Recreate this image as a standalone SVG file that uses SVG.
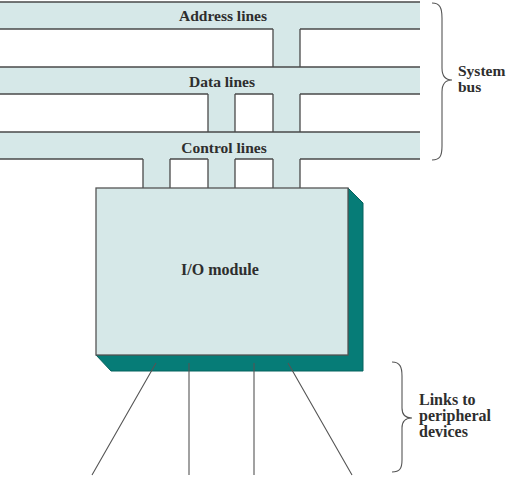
<svg xmlns="http://www.w3.org/2000/svg" width="506" height="479" viewBox="0 0 506 479">
<style>
.fill{fill:#d6e8e8;stroke:none}
.ln{stroke:#4a4a4a;stroke-width:1.3;fill:none}
.thin{stroke:#555;stroke-width:1.1;fill:none}
.lbl{font-family:"Liberation Serif","Times New Roman",serif;font-weight:bold;font-size:15.5px;fill:#2e2e2e}
.big{font-size:16px}
.lblc{text-anchor:middle}
</style>
<rect width="506" height="479" fill="#ffffff"/>
<g id="bus-stubs">
  <rect class="fill" x="273" y="29" width="27" height="159"/>
  <rect class="fill" x="208" y="94" width="27" height="94"/>
  <rect class="fill" x="143" y="159" width="27" height="29"/>
  <path class="ln" d="M273,29V67M300,29V67M273,94V132M300,94V132M273,159V188M300,159V188M208,94V132M235,94V132M208,159V188M235,159V188M143,159V188M170,159V188"/>
</g>
<g id="address-lines">
  <rect class="fill" x="0" y="2" width="420" height="27"/>
  <path class="ln" d="M0,2H420M0,29H273M300,29H420"/>
  <text class="lbl lblc" x="223" y="21">Address lines</text>
</g>
<g id="data-lines">
  <rect class="fill" x="0" y="67" width="420" height="27"/>
  <path class="ln" d="M0,67H420M0,94H208M235,94H273M300,94H420"/>
  <text class="lbl lblc" x="222" y="87">Data lines</text>
</g>
<g id="control-lines">
  <rect class="fill" x="0" y="132" width="420" height="27"/>
  <path class="ln" d="M0,132H420M0,159H143M170,159H208M235,159H273M300,159H420"/>
  <text class="lbl lblc" x="224" y="153">Control lines</text>
</g>
<g id="io-module">
  <polygon points="348,188 363,203 363,371 111,371 96,355 348,355" fill="#067c77" stroke="#05635f" stroke-width="1"/>
  <rect x="96" y="188" width="252" height="167" fill="#d6e8e8" stroke="#555" stroke-width="1.3"/>
  <text class="lbl big lblc" x="220" y="275">I/O module</text>
</g>
<g id="connectors">
  <path class="thin" d="M156,363L92,475M189,363V475M254,363V475M288,363L352,475"/>
</g>
<g id="system-bus-label">
  <path class="thin" d="M432,3C440,3 442,8 442,18L442,68C442,76 446,80 452,80C446,80 442,84 442,92L442,146C442,156 440,160 432,160"/>
  <text class="lbl" x="458" y="76">System</text>
  <text class="lbl" x="458" y="92">bus</text>
</g>
<g id="links-label">
  <path class="thin" d="M392,362C400,362 402,367 402,376L402,408C402,414 405,418 412,418C405,418 402,422 402,428L402,460C402,468 400,472 392,472"/>
  <text class="lbl big" x="419" y="405">Links to</text>
  <text class="lbl big" x="419" y="421">peripheral</text>
  <text class="lbl big" x="419" y="437">devices</text>
</g>
</svg>
